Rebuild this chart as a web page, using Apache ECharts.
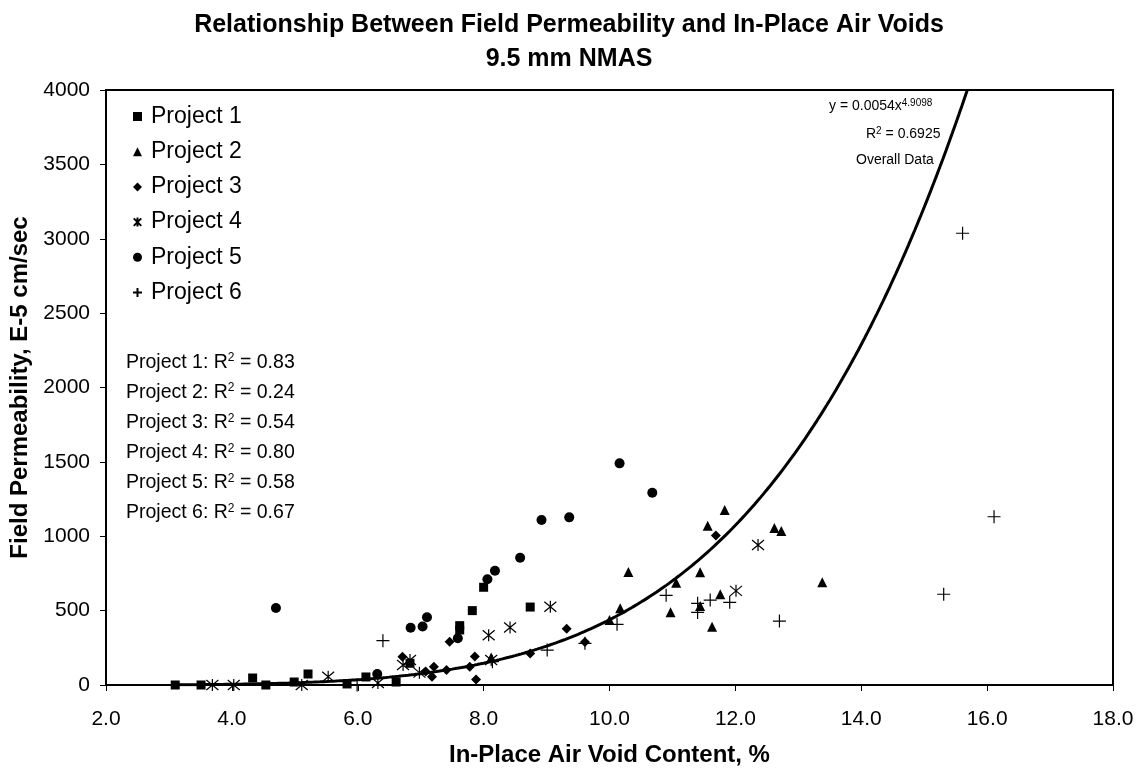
<!DOCTYPE html>
<html style="height: 100%">
  <head>
    <meta charset="utf-8" />
  </head>
  <body style="height: 100%; margin: 0; background: #fff">
    <div id="container" style="width: 1138px; height: 768px"></div>
    <script
      type="text/javascript"
      src="https://cdn.jsdelivr.net/npm/echarts@6.0.0/dist/echarts.min.js"
    ></script>

    <script type="text/javascript">
      var dom = document.getElementById("container");
      var myChart = echarts.init(dom, null, { renderer: "canvas" });

      // air voids (%), permeability (E-5 cm/sec)
      // prettier-ignore
      let project1 = [[3.10, 0], [3.51, 0], [4.33, 47], [4.54, 0], [4.99, 20], [5.21, 74], [5.83, 7], [6.13, 54], [6.61, 20], [6.83, 146], [7.62, 399], [7.62, 370], [7.82, 500], [8.00, 657], [8.74, 524]];
      // prettier-ignore
      let project2 = [[8.12, 185], [10.00, 437], [10.17, 516], [10.30, 760], [10.97, 489], [11.06, 688], [11.44, 758], [11.44, 531], [11.56, 1071], [11.63, 392], [11.76, 610], [11.83, 1176], [12.62, 1055], [12.73, 1035], [13.38, 690]];
      // prettier-ignore
      let project3 = [[6.71, 190], [7.08, 90], [7.18, 56], [7.21, 123], [7.41, 101], [7.46, 290], [7.78, 123], [7.86, 192], [7.88, 37], [8.74, 212], [9.32, 378], [9.61, 289], [11.69, 1005]];
      // prettier-ignore
      let project4 = [[3.69, 0], [4.03, 0], [5.11, 0], [5.53, 56], [6.32, 13], [6.72, 134], [6.83, 168], [6.98, 83], [8.08, 335], [8.12, 168], [8.42, 387], [9.06, 526], [12.01, 633], [12.36, 941]];
      // prettier-ignore
      let project5 = [[4.70, 518], [6.31, 74], [6.84, 385], [7.03, 393], [7.10, 455], [7.59, 314], [8.06, 711], [8.18, 768], [8.58, 856], [8.92, 1109], [9.36, 1127], [10.16, 1490], [10.68, 1293]];
      // prettier-ignore
      let project6 = [[5.99, 0], [6.40, 298], [8.14, 157], [9.01, 235], [9.61, 280], [10.12, 408], [10.90, 603], [11.40, 549], [11.40, 488], [11.60, 571], [11.91, 556], [12.70, 430], [15.31, 610], [15.61, 3037], [16.11, 1131]];

      let projectNames = ["Project 1", "Project 2", "Project 3", "Project 4", "Project 5", "Project 6"];
      let projectR2 = ["0.83", "0.24", "0.54", "0.80", "0.58", "0.67"];

      // overall power trendline printed on the chart: y = a * x^b
      let trendA = 0.0054;
      let trendB = 4.9098;
      let trendR2 = "0.6925";
      let trendFrom = 3.1;

      let yTop = 4000;
      let trendTo = Math.pow(yTop / trendA, 1 / trendB);
      let trend = [];
      for (let x = trendFrom; x < trendTo; x += 0.05) {
        trend.push([x, trendA * Math.pow(x, trendB)]);
      }
      trend.push([trendTo, yTop]);

      const asterisk = "path://M0,0L10,10M10,0L0,10M5,-1L5,11";
      const plus = "path://M6,0L6,12M0,6L12,6";
      const font = "Arial, 'Liberation Sans', sans-serif";

      let symbols = ["rect", "triangle", "diamond", asterisk, "circle", plus];
      let sizes = [9, 10, 10, 12, 10, 13];
      let datasets = [project1, project2, project3, project4, project5, project6];

      let series = datasets.map(function (d, i) {
        let stroke = i === 3 || i === 5;
        return {
          name: projectNames[i],
          type: "scatter",
          data: d,
          symbol: symbols[i],
          symbolSize: sizes[i],
          itemStyle: stroke
            ? { color: "rgba(0,0,0,0)", borderColor: "#000", borderWidth: 1.2, opacity: 1 }
            : { color: "#000", opacity: 1 },
          z: 3,
        };
      });
      series.push({
        name: "Overall",
        type: "line",
        data: trend,
        showSymbol: false,
        lineStyle: { color: "#000", width: 3 },
        z: 4,
      });

      const supStyle = { fontSize: 12, verticalAlign: "top", padding: [0, 0, 9, 0] };

      let r2Texts = projectNames.map(function (n, i) {
        return {
          type: "text",
          left: 126,
          top: 352 + i * 30.1,
          style: {
            text: n + ": R{sup|2} = " + projectR2[i],
            font: "19.5px " + font,
            fill: "#000",
            rich: { sup: supStyle },
          },
        };
      });

      let option = {
        animation: false,
        backgroundColor: "#fff",
        title: {
          text: "Relationship Between Field Permeability and In-Place Air Voids\n9.5 mm NMAS",
          left: "center",
          top: 8,
          padding: 0,
          textStyle: {
            fontFamily: font,
            fontSize: 25,
            fontWeight: "bold",
            color: "#000",
            lineHeight: 34,
          },
        },
        grid: {
          left: 106,
          right: 25,
          top: 90,
          bottom: 83,
          show: true,
          borderColor: "#000",
          borderWidth: 2,
          outerBoundsMode: "none",
        },
        legend: {
          data: projectNames,
          orient: "vertical",
          left: 127,
          top: 100,
          itemWidth: 9,
          itemHeight: 9,
          itemGap: 12.2,
          textStyle: { fontFamily: font, fontSize: 23, color: "#000", padding: [0, 0, 0, 4] },
        },
        xAxis: {
          type: "value",
          min: 2,
          max: 18,
          interval: 2,
          name: "In-Place Air Void Content, %",
          nameLocation: "middle",
          nameGap: 58,
          nameTextStyle: { fontFamily: font, fontSize: 24, fontWeight: "bold", color: "#000" },
          axisLine: { lineStyle: { color: "#000", width: 2 } },
          axisTick: { show: true, length: 6, lineStyle: { color: "#000" } },
          axisLabel: {
            margin: 24,
            fontFamily: font,
            fontSize: 21,
            color: "#000",
            formatter: function (v) {
              return v.toFixed(1);
            },
          },
          splitLine: { show: false },
        },
        yAxis: {
          type: "value",
          min: 0,
          max: yTop,
          interval: 500,
          name: "Field Permeability, E-5 cm/sec",
          nameLocation: "middle",
          nameGap: 70,
          nameTextStyle: { fontFamily: font, fontSize: 24, fontWeight: "bold", color: "#000" },
          axisLine: { show: true, lineStyle: { color: "#000", width: 2 } },
          axisTick: { show: true, length: 6, lineStyle: { color: "#000" } },
          axisLabel: {
            margin: 16,
            fontFamily: font,
            fontSize: 21,
            color: "#000",
            formatter: function (v) {
              return String(v);
            },
          },
          splitLine: { show: false },
        },
        graphic: r2Texts.concat([
          {
            type: "text",
            left: 829,
            top: 98,
            style: {
              text: "y = " + trendA + "x{sup|" + trendB + "}",
              font: "14px " + font,
              fill: "#000",
              rich: { sup: { fontSize: 10, verticalAlign: "top", padding: [0, 0, 7, 0] } },
            },
          },
          {
            type: "text",
            left: 866,
            top: 126,
            style: {
              text: "R{sup|2} = " + trendR2,
              font: "14px " + font,
              fill: "#000",
              rich: { sup: { fontSize: 10, verticalAlign: "top", padding: [0, 0, 7, 0] } },
            },
          },
          {
            type: "text",
            left: 856,
            top: 153,
            style: { text: "Overall Data", font: "14px " + font, fill: "#000" },
          },
        ]),
        series: series,
      };

      myChart.setOption(option);
    </script>
  </body>
</html>
